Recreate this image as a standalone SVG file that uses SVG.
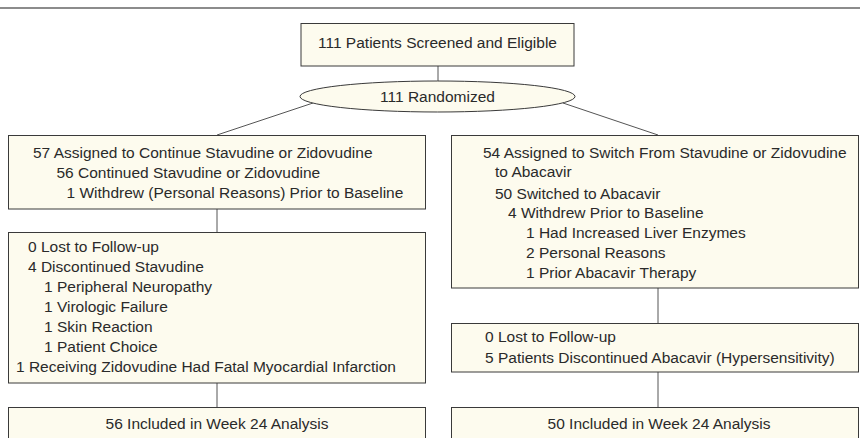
<svg xmlns="http://www.w3.org/2000/svg" width="860" height="438" viewBox="0 0 860 438">
  <style>
    .box { fill: #fdfbee; stroke: #3a3a3a; stroke-width: 1; }
    .conn { stroke: #555; stroke-width: 1; fill: none; }
    text { font-family: "Liberation Sans", Arial, Helvetica, sans-serif; font-size: 15.5px; fill: #2a2a2a; }
    .c { text-anchor: middle; }
  </style>
  <rect x="0" y="0" width="860" height="438" fill="#ffffff"/>
  <line x1="0" y1="8" x2="860" y2="8" stroke="#666" stroke-width="1.3"/>

  <g id="connectors">
    <line class="conn" x1="438" y1="66" x2="438" y2="81"/>
    <line class="conn" x1="313" y1="103" x2="217" y2="135"/>
    <line class="conn" x1="563" y1="103" x2="658" y2="135"/>
    <line class="conn" x1="217" y1="209" x2="217" y2="232"/>
    <line class="conn" x1="217" y1="383" x2="217" y2="407"/>
    <line class="conn" x1="658" y1="288" x2="658" y2="323"/>
    <line class="conn" x1="658" y1="372" x2="658" y2="407"/>
  </g>

  <g id="screened">
    <rect class="box" x="301" y="23.5" width="273" height="42.5"/>
    <text class="c" x="437.5" y="48">111 Patients Screened and Eligible</text>
  </g>

  <g id="randomized">
    <ellipse class="box" cx="437.5" cy="96.5" rx="137.5" ry="15.5"/>
    <text class="c" x="437.5" y="102">111 Randomized</text>
  </g>

  <g id="continue-arm">
    <rect class="box" x="8.5" y="135.5" width="417" height="73.5"/>
    <text x="33" y="158">57 Assigned to Continue Stavudine or Zidovudine</text>
    <text x="56.5" y="178">56 Continued Stavudine or Zidovudine</text>
    <text x="66.5" y="198">1 Withdrew (Personal Reasons) Prior to Baseline</text>
  </g>

  <g id="switch-arm">
    <rect class="box" x="451.5" y="135.5" width="407" height="152.5"/>
    <text x="483" y="158">54 Assigned to Switch From Stavudine or Zidovudine</text>
    <text x="495" y="177">to Abacavir</text>
    <text x="495" y="198.5">50 Switched to Abacavir</text>
    <text x="508" y="218">4 Withdrew Prior to Baseline</text>
    <text x="526" y="238">1 Had Increased Liver Enzymes</text>
    <text x="526" y="258">2 Personal Reasons</text>
    <text x="526" y="278">1 Prior Abacavir Therapy</text>
  </g>

  <g id="continue-followup">
    <rect class="box" x="8.5" y="232.5" width="417" height="150.5"/>
    <text x="28" y="251.5">0 Lost to Follow-up</text>
    <text x="28" y="272">4 Discontinued Stavudine</text>
    <text x="44" y="292">1 Peripheral Neuropathy</text>
    <text x="44" y="312">1 Virologic Failure</text>
    <text x="44" y="332">1 Skin Reaction</text>
    <text x="44" y="352">1 Patient Choice</text>
    <text x="16" y="372">1 Receiving Zidovudine Had Fatal Myocardial Infarction</text>
  </g>

  <g id="switch-followup">
    <rect class="box" x="451.5" y="323.5" width="407" height="48.5"/>
    <text x="485" y="342">0 Lost to Follow-up</text>
    <text x="485" y="363">5 Patients Discontinued Abacavir (Hypersensitivity)</text>
  </g>

  <g id="continue-analysis">
    <rect class="box" x="8.5" y="407.5" width="417" height="45"/>
    <text class="c" x="217" y="429">56 Included in Week 24 Analysis</text>
  </g>

  <g id="switch-analysis">
    <rect class="box" x="451.5" y="407.5" width="407" height="45"/>
    <text class="c" x="659" y="429">50 Included in Week 24 Analysis</text>
  </g>
</svg>
